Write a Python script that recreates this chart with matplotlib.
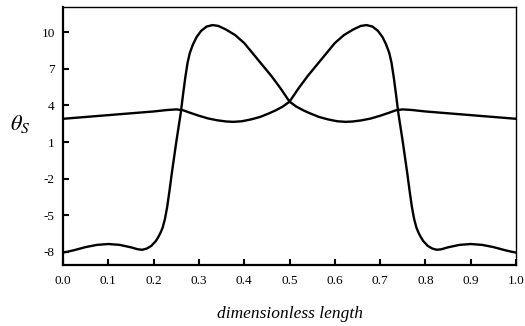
import matplotlib
matplotlib.use("Agg")
import matplotlib.pyplot as plt

# curve 1 (large swing)
x1 = [0.000, 0.010, 0.025, 0.050, 0.075, 0.100, 0.125, 0.150, 0.165, 0.175,
      0.185, 0.195, 0.200, 0.205, 0.210, 0.215, 0.220, 0.225, 0.230, 0.235,
      0.240, 0.245, 0.250, 0.255, 0.260, 0.265, 0.270, 0.275, 0.280, 0.287,
      0.295, 0.305, 0.317, 0.330, 0.343, 0.360, 0.380, 0.400, 0.420, 0.440,
      0.460, 0.480, 0.490, 0.500,
      0.510, 0.520, 0.540, 0.560, 0.580, 0.600, 0.620, 0.640, 0.657, 0.670,
      0.683, 0.695, 0.705, 0.713, 0.720, 0.725, 0.730, 0.735, 0.740, 0.745,
      0.750, 0.755, 0.760, 0.765, 0.770, 0.775, 0.780, 0.785, 0.790, 0.795,
      0.800, 0.805, 0.815, 0.825, 0.835, 0.850, 0.875, 0.900, 0.925, 0.950,
      0.975, 0.990, 1.000]
y1 = [-8.05, -7.98, -7.85, -7.6, -7.42, -7.35, -7.42, -7.62, -7.78, -7.82,
      -7.72, -7.5, -7.3, -7.1, -6.8, -6.45, -6.0, -5.3, -4.3, -3.0,
      -1.6, -0.3, 1.0, 2.2, 3.4, 4.9, 6.3, 7.5, 8.3, 9.0,
      9.6, 10.1, 10.45, 10.57, 10.5, 10.2, 9.75, 9.1, 8.2, 7.3,
      6.4, 5.4, 4.85, 4.3,
      4.85, 5.4, 6.4, 7.3, 8.2, 9.1, 9.75, 10.2, 10.5, 10.57,
      10.45, 10.1, 9.6, 9.0, 8.3, 7.5, 6.3, 4.9, 3.4, 2.2,
      1.0, -0.3, -1.6, -3.0, -4.3, -5.3, -6.0, -6.45, -6.8, -7.1,
      -7.3, -7.5, -7.72, -7.82, -7.78, -7.62, -7.42, -7.35, -7.42, -7.6,
      -7.85, -7.98, -8.05]

# curve 2 (small swing)
x2 = [0.0, 0.05, 0.1, 0.15, 0.2, 0.23, 0.25, 0.265, 0.28, 0.3,
      0.32, 0.34, 0.36, 0.376, 0.395, 0.415, 0.435, 0.455, 0.47, 0.485,
      0.5,
      0.515, 0.53, 0.545, 0.565, 0.585, 0.605, 0.624, 0.64, 0.66, 0.68,
      0.7, 0.72, 0.735, 0.75, 0.77, 0.8, 0.85, 0.9, 0.95, 1.0]
y2 = [2.9, 3.05, 3.2, 3.35, 3.5, 3.62, 3.67, 3.6, 3.4, 3.15,
      2.93, 2.78, 2.68, 2.65, 2.7, 2.85, 3.05, 3.35, 3.6, 3.9,
      4.3,
      3.9, 3.6, 3.35, 3.05, 2.85, 2.7, 2.65, 2.68, 2.78, 2.93,
      3.15, 3.4, 3.6, 3.67, 3.62, 3.5, 3.35, 3.2, 3.05, 2.9]

xticks = [0.0, 0.1, 0.2, 0.3, 0.4, 0.5, 0.6, 0.7, 0.8, 0.9, 1.0]
yticks = [-8, -5, -2, 1, 4, 7, 10]

plt.rcParams['font.family'] = ['Liberation Serif', 'DejaVu Serif']
plt.rcParams['mathtext.fontset'] = 'stix'

fig = plt.figure(figsize=(5.25, 3.26), dpi=100)
ax = fig.add_axes([0.12, 0.187, 0.863, 0.7915])

ax.plot(x1, y1, color='black', lw=1.7, solid_joinstyle='round')
ax.plot(x2, y2, color='black', lw=1.7, solid_joinstyle='round')

ax.set_xlim(0, 1.0)
ax.set_ylim(-9.07, 12.05)
ax.set_xticks(xticks)
ax.set_xticklabels(['%.1f' % v for v in xticks])
ax.set_yticks(yticks)
ax.set_yticklabels([str(v) for v in yticks])

ax.tick_params(direction='in', length=4, width=1.5, labelsize=9.5)
ax.tick_params(axis='x', pad=7)
ax.tick_params(axis='y', pad=6)
for s in ['left', 'bottom']:
    ax.spines[s].set_linewidth(1.6)
for s in ['top', 'right']:
    ax.spines[s].set_linewidth(1.0)

ax.set_xlabel('dimensionless length', fontstyle='italic', fontsize=12.5, va='center')
ax.xaxis.set_label_coords(0.5, -0.19)
ax.set_ylabel(r'$\theta_S$', fontsize=16, rotation=0, va='center', ha='center')
ax.yaxis.set_label_coords(-0.095, 0.545)

fig.savefig('out.png', dpi=100)
